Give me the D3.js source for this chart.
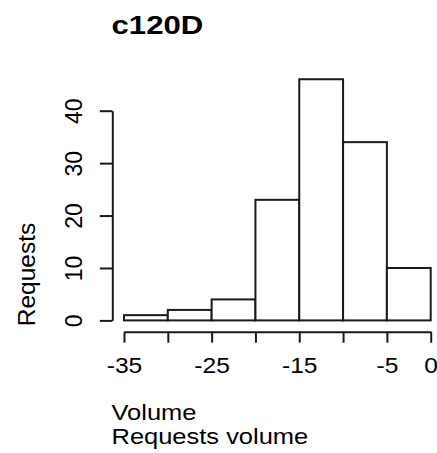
<!DOCTYPE html>
<html>
<head>
<meta charset="utf-8">
<script src="https://cdn.jsdelivr.net/npm/d3@7"></script>
<style>
  html, body { margin: 0; padding: 0; background: #fff; }
  text { font-family: "Liberation Sans", Arial, sans-serif; fill: #000; }
</style>
</head>
<body>
<svg id="chart" width="437" height="453"></svg>
<script>
// Data
const binStarts = [-35, -30, -25, -20, -15, -10, -5];
const binEnds   = [-30, -25, -20, -15, -10, -5, 0];
const counts    = [1, 2, 4, 23, 46, 34, 10];
const xTickValues = [-35, -30, -25, -20, -15, -10, -5, 0];
const xTickLabels = ["-35", "", "-25", "", "-15", "", "-5", "0"];
const yTickValues = [0, 10, 20, 30, 40];
const title = "c120D";
const xLabelLines = ["Volume", "Requests volume"];
const yLabel = "Requests";

const svg = d3.select("#chart");
const x = d3.scaleLinear().domain([-35, 0]).range([124, 430.7]);
const y = d3.scaleLinear().domain([0, 40]).range([320.4, 110.7]);
const stroke = "#1a1a1a";

// Bars
svg.append("g").selectAll("rect")
  .data(counts)
  .join("rect")
  .attr("x", (d, i) => x(binStarts[i]))
  .attr("width", (d, i) => x(binEnds[i]) - x(binStarts[i]))
  .attr("y", d => y(d))
  .attr("height", d => y(0) - y(d))
  .attr("fill", "#fff")
  .attr("stroke", stroke)
  .attr("stroke-width", 2);

// X axis
const xAxis = d3.axisBottom(x)
  .tickValues(xTickValues)
  .tickSize(11)
  .tickSizeOuter(0)
  .tickFormat((d, i) => xTickLabels[i]);
const gx = svg.append("g").attr("transform", "translate(0,331.7)").call(xAxis);
gx.select(".domain").attr("stroke", stroke).attr("stroke-width", 2);
gx.selectAll(".tick line").attr("stroke", stroke).attr("stroke-width", 2);
gx.selectAll(".tick text")
  .attr("font-size", 22)
  .attr("font-family", "Liberation Sans, Arial, sans-serif")
  .attr("fill", "#000")
  .attr("y", 0)
  .attr("dy", 0)
  .attr("transform", "translate(0,41.6) scale(1.12,1)");

// Y axis
const yAxis = d3.axisLeft(y)
  .tickValues(yTickValues)
  .tickSize(12.5)
  .tickSizeOuter(0);
const gy = svg.append("g").attr("transform", "translate(112.3,0)").call(yAxis);
gy.select(".domain").attr("stroke", stroke).attr("stroke-width", 2);
gy.selectAll(".tick line").attr("stroke", stroke).attr("stroke-width", 2);
gy.selectAll(".tick text")
  .attr("font-size", 23)
  .attr("font-family", "Liberation Sans, Arial, sans-serif")
  .attr("fill", "#000")
  .attr("x", 0).attr("y", 0).attr("dy", 0)
  .attr("text-anchor", "middle")
  .attr("transform", "translate(-30.5,0) rotate(-90)");

// Title
svg.append("text")
  .attr("transform", "translate(111.5,33.5) scale(1.2,1)")
  .attr("font-size", 26)
  .attr("font-weight", "bold")
  .text(title);

// X label (two lines)
svg.append("g").selectAll("text")
  .data(xLabelLines)
  .join("text")
  .attr("transform", (d, i) => `translate(111.5,${419.8 + i * 24}) scale(1.19,1)`)
  .attr("font-size", 21.4)
  .text(d => d);

// Y label
svg.append("text")
  .attr("transform", "translate(35,274.5) rotate(-90)")
  .attr("text-anchor", "middle")
  .attr("font-size", 24.5)
  .text(yLabel);
</script>
</body>
</html>
